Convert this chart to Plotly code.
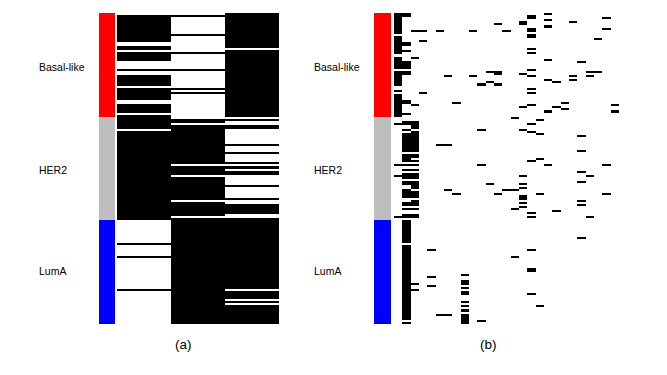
import plotly.graph_objects as go

classes = ["Basal-like", "HER2", "LumA"]
class_colors = ["#ff0000", "#bebebe", "#0000ff"]
class_sizes = [50, 50, 50]
panel_labels = ["(a)", "(b)"]

# black rows per column, as inclusive (first, last) sample ranges
panel_a_col1 = [(1,13),(16,17),(19,22),(27,27),(30,34),(36,41),(44,47),(49,55),(57,99),(111,111),(117,117),(133,133)]
panel_a_col2 = [(1,1),(10,10),(19,19),(27,27),(36,36),(38,38),(51,52),(54,72),(74,77),(79,89),(91,97),(99,149)]
panel_a_col3 = [(0,16),(18,49),(51,51),(54,55),(63,63),(67,67),(72,72),(74,74),(76,77),(83,83),(89,89),(92,92),(93,96),(99,132),(134,137),(139,139),(141,149)]

panel_b_c00 = [(0,9),(11,19),(21,26),(28,34),(37,37),(39,49),(53,53),(73,73),(78,78),(98,98)]
panel_b_c01 = [(0,1),(14,15),(18,18),(23,26),(28,29),(42,43),(48,48),(52,53),(56,56),(58,66),(68,71),(73,73),(75,75),(77,79),(81,82),(85,88),(91,92),(94,94),(97,98),(100,110),(112,147),(149,149)]
panel_b_c02 = [(8,8),(21,21),(44,44),(52,55),(57,57),(58,66),(68,69),(71,71),(73,73),(75,75),(77,79),(81,84),(86,88),(90,91),(92,92),(94,94),(97,98),(130,130),(133,133)]
panel_b_c03 = [(8,8),(13,13),(38,38)]
panel_b_c04 = [(114,114),(127,127),(131,131)]
panel_b_c05 = [(8,8),(63,63),(145,145)]
panel_b_c06 = [(30,30),(63,63),(85,85),(145,145)]
panel_b_c07 = [(43,43),(87,87)]
panel_b_c08 = [(126,126),(129,130),(132,132),(134,135),(139,139),(141,141),(143,143),(145,145),(146,149)]
panel_b_c09 = [(8,8),(30,30)]
panel_b_c10 = [(34,34),(56,56),(73,73),(148,148)]
panel_b_c11 = [(28,28),(33,33),(82,82)]
panel_b_c12 = [(5,5),(28,29),(34,34),(87,87)]
panel_b_c13 = [(8,8),(85,85)]
panel_b_c14 = [(50,50),(85,85),(94,94),(117,117)]
panel_b_c15 = [(4,5),(29,29),(45,45),(56,56),(78,78),(82,82),(84,84),(88,89),(91,91),(93,93)]
panel_b_c16 = [(1,2),(7,8),(10,11),(17,17),(19,19),(27,27),(30,30),(36,36),(38,38),(44,44),(53,53),(57,57),(71,71),(96,96),(98,98),(114,114),(123,124),(135,135)]
panel_b_c17 = [(51,51),(58,58),(70,70),(87,87),(141,141)]
panel_b_c18 = [(0,0),(3,3),(6,6),(22,22),(32,32),(47,47),(73,73)]
panel_b_c19 = [(33,33),(45,45),(95,95)]
panel_b_c20 = [(43,43),(46,46)]
panel_b_c21 = [(4,4),(30,30),(32,32)]
panel_b_c22 = [(23,23),(59,59),(66,66),(76,76),(81,81),(90,90),(92,92),(108,108)]
panel_b_c23 = [(28,28),(30,30),(78,78),(98,98)]
panel_b_c24 = [(12,12),(28,28)]
panel_b_c25 = [(2,2),(7,7),(73,73),(87,87)]
panel_b_c26 = [(44,44),(47,47)]

panel_a = [panel_a_col1, panel_a_col2, panel_a_col3]
panel_b = [panel_b_c00, panel_b_c01, panel_b_c02, panel_b_c03, panel_b_c04, panel_b_c05, panel_b_c06,
           panel_b_c07, panel_b_c08, panel_b_c09, panel_b_c10, panel_b_c11, panel_b_c12, panel_b_c13,
           panel_b_c14, panel_b_c15, panel_b_c16, panel_b_c17, panel_b_c18, panel_b_c19, panel_b_c20,
           panel_b_c21, panel_b_c22, panel_b_c23, panel_b_c24, panel_b_c25, panel_b_c26]

n_rows = sum(class_sizes)
W, H = 667, 375
TOP, BOTTOM = 13, 324


def matrix(columns):
    """Turn per-column row ranges into a rows x columns 0/1 table."""
    z = [[0] * len(columns) for _ in range(n_rows)]
    for j, spans in enumerate(columns):
        for first, last in spans:
            for i in range(first, last + 1):
                z[i][j] = 1
    return z


strip = []
for k, size in enumerate(class_sizes):
    strip += [[k]] * size
n = len(class_colors) - 1
strip_scale = []
for k, c in enumerate(class_colors):
    strip_scale += [[k / (n + 1), c], [(k + 1) / (n + 1), c]]

fig = go.Figure()
# (left, right) of each drawing area in page pixels
areas = [(99, 115), (117, 279), (374, 391), (394, 619)]
for idx, (l, r) in enumerate(areas, start=1):
    s = "" if idx == 1 else str(idx)
    fig.update_layout({
        f"xaxis{s}": dict(domain=[l / W, r / W], visible=False, anchor=f"y{s}", fixedrange=True),
        f"yaxis{s}": dict(domain=[1 - BOTTOM / H, 1 - TOP / H], visible=False, anchor=f"x{s}",
                          autorange="reversed", fixedrange=True),
    })
    if idx % 2:
        fig.add_trace(go.Heatmap(z=strip, zmin=0, zmax=n + 1, colorscale=strip_scale, showscale=False,
                                 hoverinfo="skip", xaxis=f"x{s}", yaxis=f"y{s}"))
    else:
        cols = panel_a if idx == 2 else panel_b
        fig.add_trace(go.Heatmap(z=matrix(cols), zmin=0, zmax=1,
                                 colorscale=[[0, "#ffffff"], [1, "#000000"]], showscale=False,
                                 hoverinfo="skip", xaxis=f"x{s}", yaxis=f"y{s}"))

font = dict(family="Liberation Sans, Arial, sans-serif", color="#000000")
for name, ylab in zip(classes, (67, 170, 271)):
    for x0 in (37, 312):
        fig.add_annotation(text=name, x=x0 / W, y=1 - ylab / H, xref="paper", yref="paper",
                           xanchor="left", yanchor="middle", showarrow=False, font=dict(size=10.5, **font))
for label, xc in zip(panel_labels, (183, 488)):
    fig.add_annotation(text=label, x=xc / W, y=1 - 344 / H, xref="paper", yref="paper",
                       xanchor="center", yanchor="middle", showarrow=False, font=dict(size=13.5, **font))

fig.update_layout(width=W, height=H, margin=dict(l=0, r=0, t=0, b=0),
                  paper_bgcolor="white", plot_bgcolor="white", showlegend=False)
fig.write_html("out.html", config={"displayModeBar": False},
               post_script="document.body.style.margin='0';")
